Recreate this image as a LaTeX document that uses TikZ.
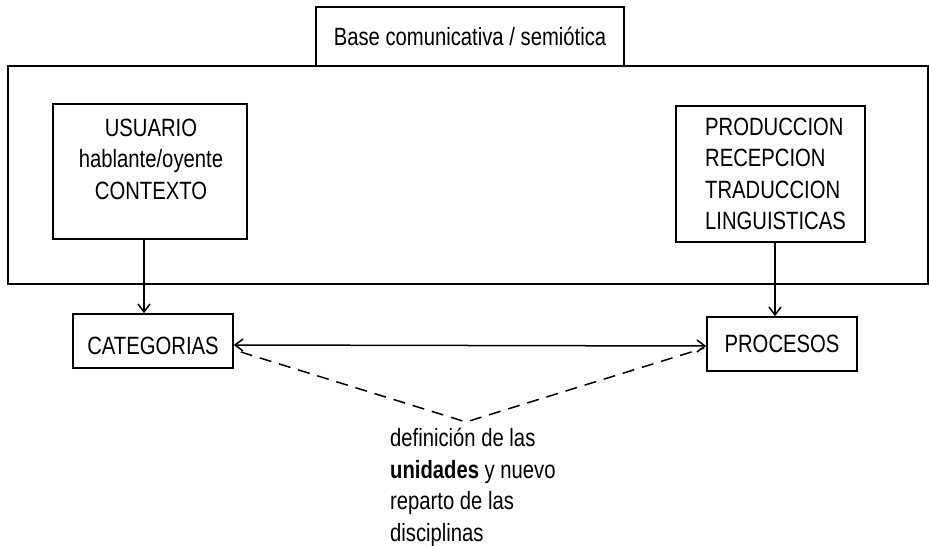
\documentclass[tikz,border=0pt]{standalone}
\usepackage{fontspec}
\setmainfont{Liberation Sans}[FakeStretch=0.81]
\usetikzlibrary{arrows.meta}
\begin{document}
\begin{tikzpicture}[x=1pt,y=-1pt,
  every node/.style={font=\fontsize{25}{31.5}\selectfont},
  boxnode/.style={draw,line width=1.6pt,inner sep=0pt},
  lbl/.style={inner sep=0pt},
  arr/.style={line width=1.5pt,-{Straight Barb[length=8pt,width=12pt,line width=1.5pt]}},
  darr/.style={line width=1.5pt,{Straight Barb[length=8pt,width=12pt,line width=1.5pt]}-{Straight Barb[length=8pt,width=12pt,line width=1.5pt]}},
  dashline/.style={line width=1.5pt,dash pattern=on 12pt off 8pt}]
\useasboundingbox (0,0) rectangle (929,546);
% big frame and title
\node[boxnode,minimum width=920pt,minimum height=218pt] (big) at (468,175) {};
\node[boxnode,fill=white,minimum width=308pt,minimum height=59pt] (title) at (470,36.5) {Base comunicativa / semiótica};
% inner boxes
\node[boxnode,minimum width=194pt,minimum height=135pt] (usu) at (150,171.5) {};
\node[lbl,align=center] (usutext) at (151,159) {USUARIO\\hablante/oyente\\CONTEXTO};
\node[boxnode,minimum width=189pt,minimum height=136pt] (prod) at (770.5,174) {};
\node[lbl,align=left,anchor=west] (prodtext) at (705,174) {PRODUCCION\\RECEPCION\\TRADUCCION\\LINGUISTICAS};
% lower boxes
\node[boxnode,minimum width=160pt,minimum height=54pt,text height=26pt,text depth=0pt] (cat) at (153,341) {CATEGORIAS};
\node[boxnode,minimum width=150pt,minimum height=54pt] (proc) at (782,344) {PROCESOS};
% bottom text
\node[lbl,align=left,anchor=north west] (note) at (390,428) {definición de las\\\textbf{unidades} y nuevo\\reparto de las\\disciplinas};
\coordinate (apex) at (466,422);
% connectors
\draw[arr] ([xshift=-6pt]usu.south) -- ([xshift=-6pt]usu.south |- cat.north);
\draw[arr] ([xshift=4.5pt]prod.south) -- ([xshift=4.5pt]prod.south |- proc.north);
\draw[darr] ([yshift=-4pt]cat.east) -- ([yshift=-2pt]proc.west);
\draw[dashline] ([shift={(7pt,-11pt)}]cat.east) -- (apex) -- ([shift={(-2pt,-4pt)}]proc.west);
\end{tikzpicture}
\end{document}
